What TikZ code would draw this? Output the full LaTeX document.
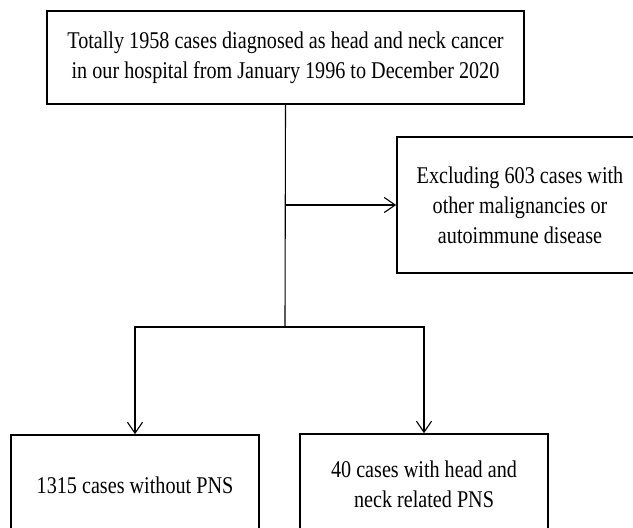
\documentclass[tikz,border=0pt]{standalone}
\usepackage{fontspec}
\setmainfont{Liberation Serif}[FakeStretch=0.84]
\usetikzlibrary{arrows.meta}
\tikzset{
  case/.style={draw, line width=1.6pt, align=center, inner sep=0pt,
    font=\fontsize{24}{30}\selectfont},
  link/.style={line width=1.1pt}
}
\begin{document}
\begin{tikzpicture}[>={Straight Barb[length=11pt,width=15pt]}, x=1pt, y=1pt]
\useasboundingbox (0,0) rectangle (633,-528);
\node[case, minimum width=477pt, minimum height=93pt] (total) at (285.5,-57.5)
  {Totally 1958 cases diagnosed as head and neck cancer\\in our hospital from January 1996 to December 2020};
\node[case, minimum width=246pt, minimum height=136pt] (excl) at (520,-205)
  {Excluding 603 cases with\\other malignancies or\\autoimmune disease};
\node[case, minimum width=248pt, minimum height=100pt] (nopns) at (135,-485)
  {1315 cases without PNS};
\node[case, minimum width=248pt, minimum height=100pt] (pns) at (424,-484)
  {40 cases with head and\\neck related PNS};
\coordinate (split) at (285,-327);
\draw[link] (total.south) -- (split);
\draw[link,->] (total.south |- excl.west) -- (excl.west);
\draw[link,->] (split) -| (nopns.north);
\draw[link,->] (split) -| (pns.north);
\end{tikzpicture}
\end{document}
